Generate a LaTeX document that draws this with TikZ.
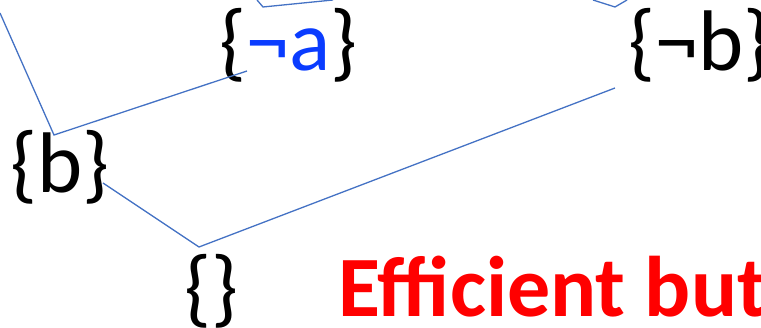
\documentclass[tikz,border=0pt]{standalone}
\usepackage{fontspec}
\setmainfont{Carlito}
\definecolor{edgeblue}{RGB}{68,114,196}
\definecolor{negblue}{RGB}{10,60,255}
\begin{document}
\begin{tikzpicture}[x=1pt, y=-1pt, every node/.style={inner sep=0pt, anchor=base west, font=\fontsize{86}{100}\selectfont}, edge/.style={draw=edgeblue, line width=1.3pt}]
  \useasboundingbox (0,0) rectangle (761,328);
  \clip (0,0) rectangle (761,328);

  % Nodes
  \node (na) at (219,71) {\{\textcolor{negblue}{¬a}\}};
  \node (nb) at (628,71) {\{¬b\}};
  \node (b) at (10,193) {\{b\}};
  \node (e) at (184,317) {\{\}};
  \node[text=red, font=\fontsize{86}{100}\selectfont\bfseries] (txt) at (338,317) {Efficient but};

  % Edge ends
  \coordinate (tl) at (0,13);
  \coordinate (vb) at (54,135);
  \coordinate (va) at (247,71);
  \coordinate (t1) at (257,0);
  \coordinate (v1) at (263,7);
  \coordinate (t2) at (333,0);
  \coordinate (t3) at (593,0);
  \coordinate (v2) at (615,7);
  \coordinate (t4) at (627,0);
  \coordinate (vnb) at (615,88);
  \coordinate (ve) at (199,247);
  \coordinate (vbr) at (103,183);

  % Edges
  \draw[edge] (tl) -- (vb) -- (va);
  \draw[edge] (t1) -- (v1) -- (t2);
  \draw[edge] (t3) -- (v2) -- (t4);
  \draw[edge] (vbr) -- (ve) -- (vnb);
\end{tikzpicture}
\end{document}
